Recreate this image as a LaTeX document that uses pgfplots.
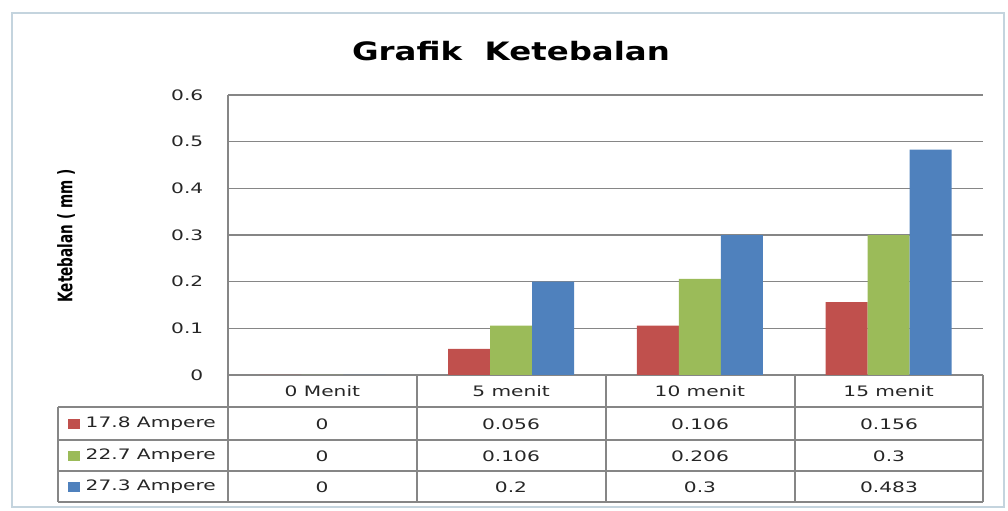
\documentclass[border=0pt]{standalone}
\usepackage{pgfplots}
\pgfplotsset{compat=1.18}
\usepackage{graphicx}
\usepackage{fontspec}
\setmainfont{DejaVu Sans}
\newcommand{\wt}[1]{\scalebox{1.4}[1]{#1}}
\definecolor{serA}{RGB}{192,80,77}
\definecolor{serB}{RGB}{155,187,89}
\definecolor{serC}{RGB}{79,129,189}
\definecolor{gridgray}{RGB}{134,134,134}
\definecolor{frameblue}{RGB}{196,212,222}

\begin{document}
\begin{tikzpicture}
\useasboundingbox (0,0) rectangle (756pt,383.25pt);

\begin{axis}[
    at={(171pt,102pt)}, anchor=south west,
    scale only axis,
    width=566.25pt, height=210pt,
    ybar=0pt, bar width=31.5pt,
    xmin=-0.5, xmax=3.5,
    ymin=0, ymax=0.6,
    xtick=data,
    xticklabels={\wt{0 Menit},\wt{5 menit},\wt{10 menit},\wt{15 menit}},
    ytick={0,0.1,0.2,0.3,0.4,0.5,0.6},
    scaled y ticks=false,
    /pgf/number format/assume math mode=true,
    yticklabel={\wt{\pgfmathprintnumber[fixed,precision=1]{\tick}}},
    yticklabel style={anchor=east, xshift=-15pt},
    ticklabel style={font=\fontsize{10.8pt}{12pt}\selectfont, text=black!85},
    xticklabel style={anchor=center, yshift=-12pt},
    major tick length=0pt,
    axis x line*=bottom, axis y line*=left,
    axis line style={-, draw=gridgray, line width=0.9pt},
    ymajorgrids, grid style={draw=gridgray, line width=0.9pt},
]
\addplot[fill=serA, draw=none] coordinates {(0,0) (1,0.056) (2,0.106) (3,0.156)};
\addplot[fill=serB, draw=none] coordinates {(0,0) (1,0.106) (2,0.206) (3,0.3)};
\addplot[fill=serC, draw=none] coordinates {(0,0) (1,0.2) (2,0.3) (3,0.483)};
\end{axis}

\begin{scope}[x=0.75pt, y=-0.75pt, shift={(0pt,383.25pt)}]
  % outer chart frame
  \draw[frameblue, line width=2.2pt] (12,13) rectangle (1004,507);
  % title and axis label
  \node[anchor=base] at (511,61) {\bfseries\fontsize{19pt}{22pt}\selectfont\scalebox{1.28}[1]{Grafik~~Ketebalan}};
  \node[rotate=90] at (66,236) {\bfseries\fontsize{15pt}{16pt}\selectfont\scalebox{0.68}[1]{Ketebalan ( mm )}};
  % data table
  \begin{scope}[gridgray, line width=0.9pt]
    \draw (58,407) -- (983,407);
    \draw (58,440) -- (983,440);
    \draw (58,471) -- (983,471);
    \draw (58,502) -- (983,502);
    \draw (58,407) -- (58,502);
    \foreach \xx in {228,417,606,795,983} \draw (\xx,375) -- (\xx,502);
  \end{scope}
  \begin{scope}[every node/.style={font=\fontsize{10.8pt}{12pt}\selectfont, text=black!85}]
    \fill[serA] (68,419) rectangle (80,429);
    \fill[serB] (68,451) rectangle (80,461);
    \fill[serC] (68,482) rectangle (80,492);
    \node[anchor=west] at (81,424) {\wt{17.8 Ampere}};
    \node[anchor=west] at (81,456) {\wt{22.7 Ampere}};
    \node[anchor=west] at (81,487) {\wt{27.3 Ampere}};
    \node at (322,424) {\wt{0}};     \node at (511,424) {\wt{0.056}};
    \node at (700,424) {\wt{0.106}}; \node at (889,424) {\wt{0.156}};
    \node at (322,456) {\wt{0}};     \node at (511,456) {\wt{0.106}};
    \node at (700,456) {\wt{0.206}}; \node at (889,456) {\wt{0.3}};
    \node at (322,487) {\wt{0}};     \node at (511,487) {\wt{0.2}};
    \node at (700,487) {\wt{0.3}};   \node at (889,487) {\wt{0.483}};
  \end{scope}
\end{scope}
\end{tikzpicture}
\end{document}
